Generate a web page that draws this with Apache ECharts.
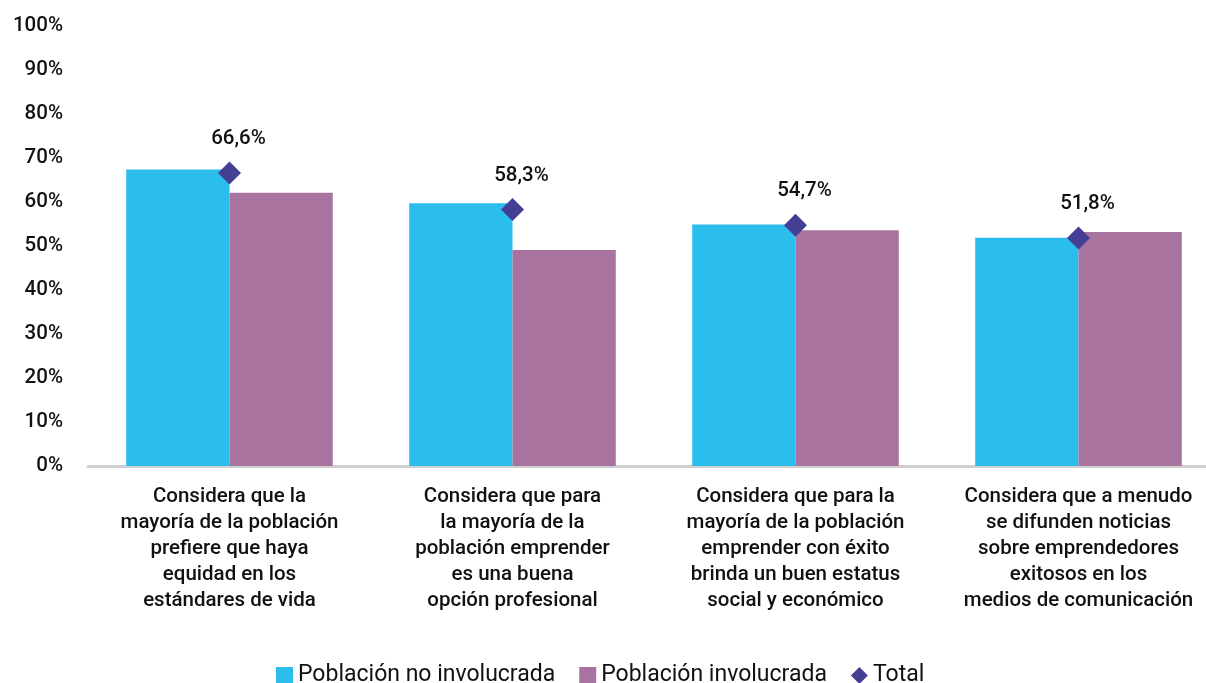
<!DOCTYPE html>
<html>
<head>
<meta charset="utf-8">
<style>
  html, body { margin: 0; padding: 0; background: #fff; }
  #chart { width: 1206px; height: 683px; }
</style>
<script src="https://cdn.jsdelivr.net/npm/echarts@6/dist/echarts.min.js"></script>
</head>
<body>
<div id="chart"></div>
<script>
// categorías y valores
const categories = [
  "Considera que la\nmayoría de la población\nprefiere que haya\nequidad en los\nestándares de vida",
  "Considera que para\nla mayoría de la\npoblación emprender\nes una buena\nopción profesional",
  "Considera que para la\nmayoría de la población\nemprender con éxito\nbrinda un buen estatus\nsocial y económico",
  "Considera que a menudo\nse difunden noticias\nsobre emprendedores\nexitosos en los\nmedios de comunicación"
];
const noInvolucrada = [67.4, 59.7, 54.9, 51.9];
const involucrada = [62.1, 49.1, 53.6, 53.2];
const total = [66.6, 58.3, 54.7, 51.8];

const font = "Roboto";
const ink = "#111111";
const chart = echarts.init(document.getElementById("chart"));

chart.setOption({
  animation: false,
  textStyle: { fontFamily: font },
  grid: { left: 88, width: 1132, top: 26, bottom: 217, outerBoundsMode: "none" },
  legend: {
    top: 659,
    left: 271,
    itemWidth: 17,
    itemHeight: 17,
    itemGap: 24,
    textStyle: { fontSize: 23, color: ink, fontFamily: font, padding: [0, 0, 0, 0] },
    data: [
      { name: "Población no involucrada", icon: "rect" },
      { name: "Población involucrada", icon: "rect" },
      { name: "Total", icon: "diamond" }
    ]
  },
  xAxis: {
    type: "category",
    data: categories,
    axisLine: { lineStyle: { color: "#d0d0d0", width: 3 } },
    axisTick: { show: false },
    axisLabel: {
      interval: 0,
      fontSize: 20.5,
      fontWeight: 500,
      lineHeight: 26,
      color: ink,
      margin: 18,
      fontFamily: font
    }
  },
  yAxis: {
    type: "value",
    min: 0,
    max: 100,
    interval: 10,
    splitLine: { show: false },
    axisLine: { show: false },
    axisLabel: {
      formatter: "{value}%",
      fontSize: 20.5,
      fontWeight: 500,
      color: ink,
      margin: 25,
      fontFamily: font
    }
  },
  series: [
    {
      name: "Población no involucrada",
      type: "bar",
      data: noInvolucrada,
      barGap: "0%",
      barCategoryGap: "27%",
      itemStyle: { color: "#2BBDEB" }
    },
    {
      name: "Población involucrada",
      type: "bar",
      data: involucrada,
      itemStyle: { color: "#A8739F" }
    },
    {
      name: "Total",
      type: "scatter",
      data: total,
      symbol: "diamond",
      symbolSize: 23,
      z: 5,
      itemStyle: { color: "#453F94", opacity: 1 },
      label: {
        show: true,
        position: "top",
        distance: 12,
        offset: [9, 0],
        fontSize: 20.5,
        fontWeight: 500,
        color: ink,
        fontFamily: font,
        formatter: (p) => p.value.toFixed(1).replace(".", ",") + "%"
      }
    }
  ]
});
</script>
</body>
</html>
